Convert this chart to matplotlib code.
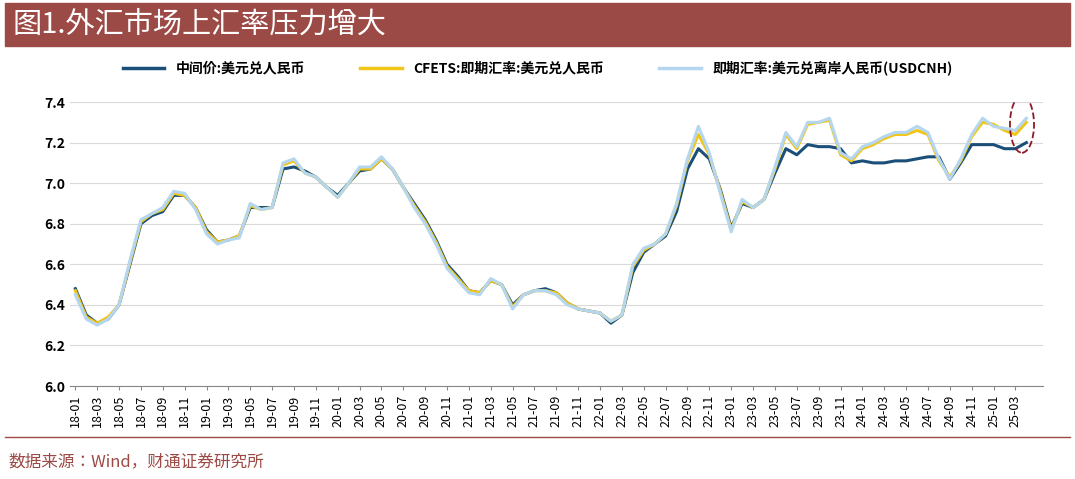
import numpy as np
import matplotlib
matplotlib.use("Agg")
import matplotlib.pyplot as plt
from matplotlib import font_manager
from matplotlib.patches import Ellipse, Rectangle
from matplotlib.lines import Line2D

cjk = sorted({f.name for f in font_manager.fontManager.ttflist if 'CJK' in f.name})
cjk_pref = [n for n in cjk if 'SC' in n] + cjk
plt.rcParams['font.family'] = (cjk_pref[:1] if cjk_pref else []) + ['DejaVu Sans']

# monthly points 2018-01 .. 2025-04
months = [f"{y:02d}-{m:02d}" for y in range(18, 26) for m in range(1, 13)][:88]

cnh = [6.45, 6.33, 6.30, 6.33, 6.40, 6.62, 6.82, 6.85, 6.88, 6.96, 6.95, 6.87,
       6.75, 6.70, 6.72, 6.73, 6.90, 6.87, 6.88, 7.10, 7.12, 7.05, 7.03, 6.98,
       6.93, 7.00, 7.08, 7.08, 7.13, 7.07, 6.98, 6.88, 6.80, 6.70, 6.58, 6.52,
       6.46, 6.45, 6.53, 6.50, 6.38, 6.45, 6.47, 6.47, 6.45, 6.40, 6.38, 6.37,
       6.36, 6.32, 6.35, 6.60, 6.68, 6.70, 6.75, 6.90, 7.12, 7.28, 7.15, 6.95,
       6.76, 6.92, 6.88, 6.92, 7.08, 7.25, 7.18, 7.30, 7.30, 7.32, 7.15, 7.12,
       7.18, 7.20, 7.23, 7.25, 7.25, 7.28, 7.25, 7.12, 7.02, 7.12, 7.24, 7.32,
       7.28, 7.27, 7.26, 7.32]
cfets = [6.47, 6.34, 6.31, 6.34, 6.40, 6.61, 6.81, 6.85, 6.87, 6.95, 6.94, 6.88,
         6.76, 6.71, 6.72, 6.74, 6.89, 6.87, 6.88, 7.09, 7.11, 7.05, 7.03, 6.98,
         6.93, 7.00, 7.07, 7.07, 7.12, 7.07, 6.98, 6.89, 6.81, 6.71, 6.59, 6.53,
         6.47, 6.46, 6.52, 6.50, 6.39, 6.45, 6.47, 6.47, 6.46, 6.41, 6.38, 6.37,
         6.36, 6.32, 6.35, 6.59, 6.67, 6.70, 6.75, 6.89, 7.11, 7.24, 7.14, 6.96,
         6.77, 6.91, 6.88, 6.92, 7.07, 7.24, 7.17, 7.29, 7.30, 7.31, 7.14, 7.11,
         7.17, 7.19, 7.22, 7.24, 7.24, 7.26, 7.24, 7.11, 7.03, 7.11, 7.23, 7.30,
         7.29, 7.26, 7.24, 7.30]
mid = [6.48, 6.35, 6.31, 6.33, 6.40, 6.60, 6.80, 6.84, 6.86, 6.94, 6.94, 6.88,
       6.77, 6.71, 6.72, 6.74, 6.88, 6.88, 6.88, 7.07, 7.08, 7.06, 7.03, 6.98,
       6.94, 7.00, 7.06, 7.07, 7.12, 7.07, 6.98, 6.90, 6.82, 6.72, 6.60, 6.54,
       6.47, 6.46, 6.52, 6.50, 6.40, 6.45, 6.47, 6.48, 6.46, 6.41, 6.38, 6.37,
       6.36, 6.31, 6.35, 6.56, 6.66, 6.70, 6.74, 6.86, 7.07, 7.17, 7.12, 6.97,
       6.78, 6.90, 6.88, 6.92, 7.05, 7.17, 7.14, 7.19, 7.18, 7.18, 7.17, 7.10,
       7.11, 7.10, 7.10, 7.11, 7.11, 7.12, 7.13, 7.13, 7.02, 7.10, 7.19, 7.19,
       7.19, 7.17, 7.17, 7.20]

labels = ['中间价:美元兑人民币', 'CFETS:即期汇率:美元兑人民币', '即期汇率:美元兑离岸人民币(USDCNH)']
colors = ['#1B4F7A', '#F2C618', '#B4D6EE']
title = '图1.外汇市场上汇率压力增大'
source = '数据来源：Wind，财通证券研究所'
red = '#9C4A45'

fig = plt.figure(figsize=(10.75, 4.79), dpi=100)
fig.patches.append(Rectangle((0.005, 0.905), 0.99, 0.088, transform=fig.transFigure, color=red))
fig.text(0.012, 0.948, title, color='white', fontsize=21, va='center')

ax = fig.add_axes([0.065, 0.194, 0.905, 0.593])
x = np.arange(len(months))
ax.plot(x, mid, color=colors[0], lw=2.2, zorder=2)
ax.plot(x, cfets, color=colors[1], lw=2.2, zorder=3)
ax.plot(x, cnh, color=colors[2], lw=2.2, zorder=4)

ax.set_ylim(6.0, 7.4)
ax.set_yticks(np.arange(6.0, 7.41, 0.2))
ax.set_yticklabels([f"{v:.1f}" for v in np.arange(6.0, 7.41, 0.2)], fontsize=10, fontweight='bold')
ax.yaxis.grid(True, color='#D9D9D9', lw=0.8)
ax.set_xlim(-0.5, 88.5)
ax.set_xticks(x[::2])
ax.set_xticklabels(months[::2], rotation=90, fontsize=9)
for s in ['top', 'right', 'left']:
    ax.spines[s].set_visible(False)
ax.spines['bottom'].set_color('#888888')
ax.tick_params(axis='y', length=0)
ax.tick_params(axis='x', length=3, color='#888888')

ax.add_patch(Ellipse((86.6, 7.29), 2.2, 0.28, fill=False, ls='--', lw=1.3, color='#8B1A2B', zorder=5))

handles = [Line2D([], [], color=c, lw=2.5) for c in colors]
fig.legend(handles, labels, loc='center', bbox_to_anchor=(0.5, 0.858), ncol=3, frameon=False,
           prop={'size': 10, 'weight': 'bold'}, handlelength=3, columnspacing=4)

fig.add_artist(Line2D([0.005, 0.995], [0.088, 0.088], color=red, lw=1))
fig.text(0.008, 0.035, source, color=red, fontsize=12, va='center')

fig.savefig('out.png', dpi=100)
